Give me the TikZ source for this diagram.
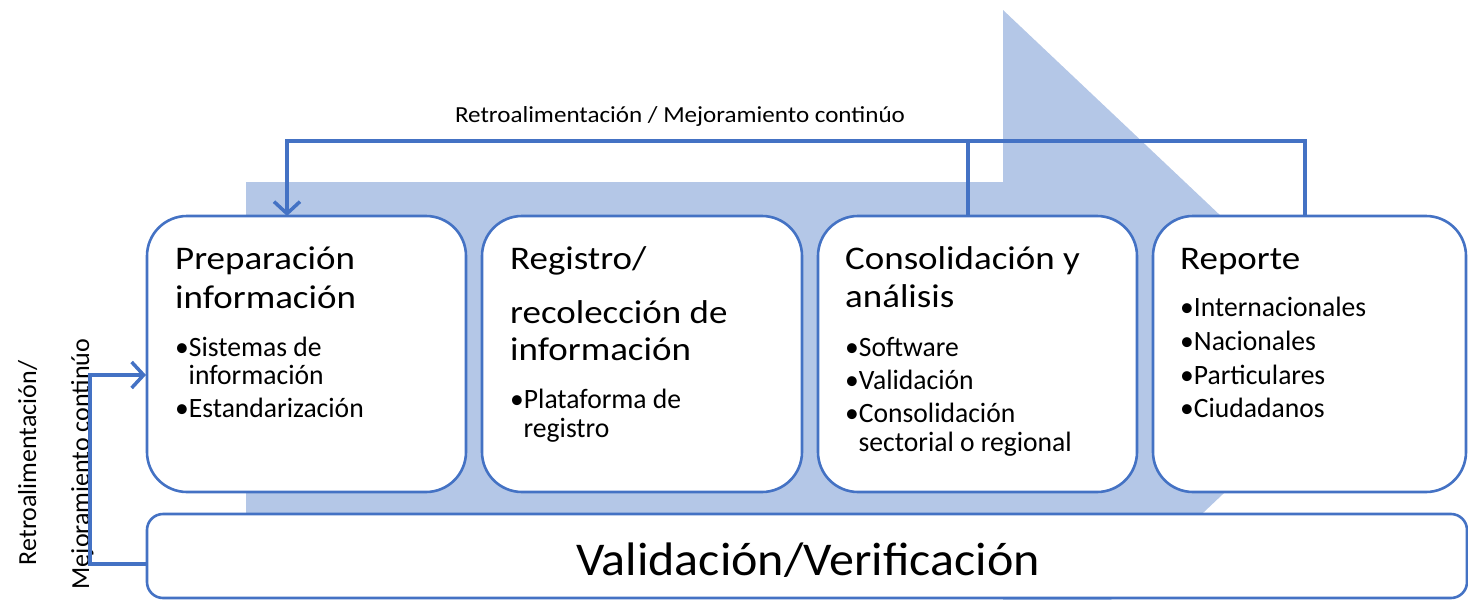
\documentclass[tikz,border=0pt]{standalone}
\usepackage{fontspec}
\setmainfont{Carlito}
\newfontfamily\ttlfont[FakeStretch=1.12]{Carlito}
\newfontfamily\itmfont[FakeStretch=0.985]{Carlito}
\newfontfamily\valfont[FakeStretch=1.065]{Carlito}
\newfontfamily\lblfont[FakeStretch=1.09]{Carlito}
\usetikzlibrary{arrows.meta}
\definecolor{lblue}{HTML}{4472C4}
\definecolor{afill}{HTML}{B4C7E7}
\begin{document}
\begin{tikzpicture}[x=1pt,y=-1pt,
  stage/.style={draw=lblue,line width=2.6pt,fill=white,rounded corners=40pt,minimum height=276pt,inner sep=0pt},
  valbox/.style={draw=lblue,line width=2.6pt,fill=white,rounded corners=16pt,minimum width=1320pt,minimum height=84pt,inner sep=0pt},
  ttl/.style={font=\ttlfont\fontsize{33}{38}\selectfont,anchor=base west,inner sep=0pt},
  itm/.style={font=\itmfont\fontsize{28}{32}\selectfont,anchor=base west,inner sep=0pt},
  lbl/.style={font=\lblfont\fontsize{23}{27}\selectfont,anchor=base,inner sep=0pt},
  rlbl/.style={font=\fontsize{26}{30}\selectfont,anchor=base,inner sep=0pt,rotate=90},
  fb/.style={draw=lblue,line width=3.5pt},
  arr/.style={-{Straight Barb[length=12pt,width=26pt,line width=3.5pt]}}
]
\useasboundingbox (0,0) rectangle (1468,600);
% big background arrow
\fill[afill] (246,182) -- (1003,182) -- (1003,10) -- (1369,356) -- (1003,702) -- (1003,530) -- (246,530) -- cycle;
% boxes
\node[stage,minimum width=319pt] (b1) at (306.5,354) {};
\node[stage,minimum width=320pt] (b2) at (642,354) {};
\node[stage,minimum width=319pt] (b3) at (977.5,354) {};
\node[stage,minimum width=313pt] (b4) at (1309.5,354) {};
\node[valbox] (val) at (807,556) {};
% texts box 1
\node[ttl] (t1a) at (175,269) {Preparación};
\node[ttl] (t1b) at (175,308) {información};
\node[itm] (t1c) at (175,356) {•Sistemas de};
\node[itm] (t1d) at (188.5,384) {información};
\node[itm] (t1e) at (175,417) {•Estandarización};
% box 2
\node[ttl] (t2a) at (510,269) {Registro/};
\node[ttl] (t2b) at (510,323) {recolección de};
\node[ttl] (t2c) at (510,360) {información};
\node[itm] (t2d) at (510,408) {•Plataforma de};
\node[itm] (t2e) at (523.5,437) {registro};
% box 3
\node[ttl] (t3a) at (845,269) {Consolidación y};
\node[ttl] (t3b) at (845,307) {análisis};
\node[itm] (t3c) at (845,356) {•Software};
\node[itm] (t3d) at (845,389) {•Validación};
\node[itm] (t3e) at (845,422) {•Consolidación};
\node[itm] (t3f) at (858.5,451) {sectorial o regional};
% box 4
\node[ttl] (t4a) at (1180,269) {Reporte};
\node[itm] (t4b) at (1180,316) {•Internacionales};
\node[itm] (t4c) at (1180,350) {•Nacionales};
\node[itm] (t4d) at (1180,384) {•Particulares};
\node[itm] (t4e) at (1180,417) {•Ciudadanos};
% validation text
\node[font=\valfont\fontsize{47}{54}\selectfont,anchor=base,inner sep=0pt] (vt) at (808,575) {Validación/Verificación};
% labels
\node[lbl] (toplbl) at (680,122) {Retroalimentación / Mejoramiento continúo};
\node[rlbl] (l1) at (36,463) {Retroalimentación/};
\node[rlbl] (l2) at (89,464) {Mejoramiento continúo};
% feedback connectors
\coordinate (c1) at (287,216);
\coordinate (c3) at (968,216);
\coordinate (c4) at (1305,216);
\coordinate (topL) at (287,141);
\coordinate (topR) at (1305,141);
\draw[fb,arr] (c4) -- (topR) -- (topL) -- (c1);
\draw[fb] (c3) -- (c3 |- topR);
\coordinate (vl) at (147,564);
\coordinate (lb) at (90,564);
\coordinate (lt) at (90,375);
\coordinate (b1l) at (146,375);
\draw[fb,arr] (vl) -- (lb) -- (lt) -- (b1l);
\end{tikzpicture}
\end{document}
